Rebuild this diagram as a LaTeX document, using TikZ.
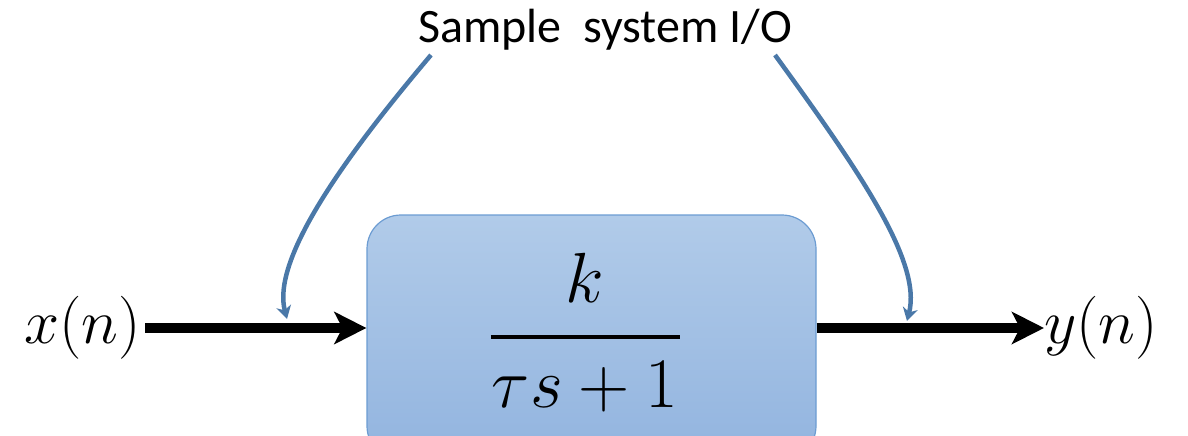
\RequirePackage{fix-cm}
\documentclass[tikz,border=0pt]{standalone}
\usepackage{fontspec}
\newfontfamily\calib{Carlito}
\usetikzlibrary{arrows.meta}
\definecolor{curveblue}{HTML}{4A78A8}
\definecolor{boxtop}{HTML}{B1CBE9}
\definecolor{boxbot}{HTML}{92B4DF}
\definecolor{boxedge}{HTML}{6C9CD2}
\tikzset{
  sysbox/.style={draw=boxedge, line width=1.2pt, rounded corners=34pt,
    top color=boxtop, bottom color=boxbot, minimum width=449pt,
    minimum height=245pt, inner sep=0pt},
  iolabel/.style={inner sep=0pt, font=\fontsize{63}{70}\selectfont},
  tflabel/.style={inner sep=0pt, font=\fontsize{71}{80}\selectfont, anchor=base},
  fracbar/.style={line width=4pt},
  toplabel/.style={inner sep=0pt, font=\calib\fontsize{48}{56}\selectfont},
  bigarrow/.style={line width=10pt, -{Stealth[length=32pt,width=32pt,inset=8pt]}},
  curvearrow/.style={curveblue, line width=4.5pt, -{Stealth[length=13pt,width=15pt,inset=4pt]}}
}
\begin{document}
\begin{tikzpicture}[x=1pt,y=-1pt]
\useasboundingbox (0,0) rectangle (1188,436);
\clip (0,0) rectangle (1188,436);
\node[sysbox] (box) at (591.5,337.5) {};
\node[tflabel] (num) at (585,302) {$k$};
\node[tflabel] (den) at (585,407) {$\tau s+1$};
\coordinate (barc) at (585,337);
\draw[fracbar] ([xshift=-1pt]den.west |- barc) -- ([xshift=2pt]den.east |- barc);
\node[iolabel, anchor=east] (xin) at (141,328) {$x(n)$};
\node[iolabel, anchor=west] (yout) at (1044,328) {$y(n)$};
\node[toplabel, anchor=base] (lab) at (605,43) {Sample\ \ system I/O};
\draw[bigarrow, shorten <=4pt] (xin.east) -- (xin.east -| box.west);
\draw[bigarrow] (box.east |- yout.west) -- (yout.west);
\coordinate (s1) at (431,55);
\coordinate (t1) at (287,319);
\coordinate (s2) at (775,55);
\coordinate (t2) at (907,321);
\draw[curvearrow] (s1) .. controls (336,167) and (272,262) .. (t1);
\draw[curvearrow] (s2) .. controls (860,172) and (922,262) .. (t2);
\end{tikzpicture}
\end{document}
